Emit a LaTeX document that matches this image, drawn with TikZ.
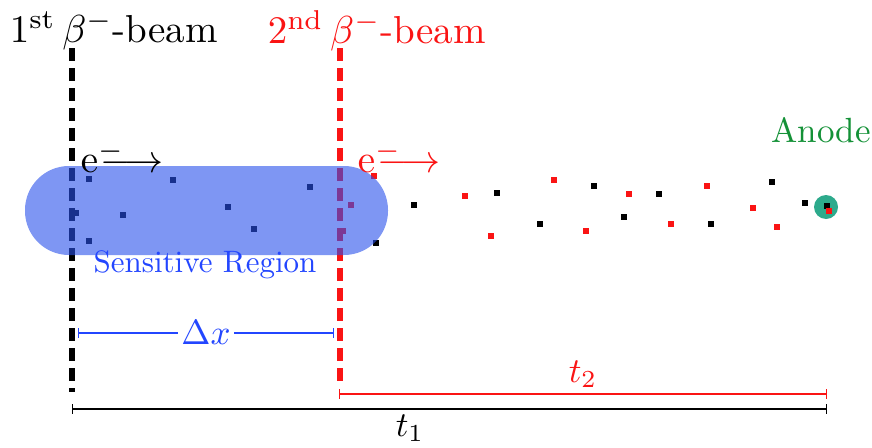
\documentclass[tikz,border=0pt]{standalone}
\definecolor{regionblue}{RGB}{40,80,235}
\definecolor{txtblue}{RGB}{35,70,255}
\definecolor{anodegreen}{RGB}{20,145,55}
\definecolor{anodeteal}{RGB}{45,170,140}
\definecolor{myred}{RGB}{250,20,20}
\begin{document}
\begin{tikzpicture}[x=1pt,y=-1pt,
  beamline/.style={line width=6.5pt,dash pattern=on 12.5pt off 7.5pt},
  pt/.style={fill=#1,inner sep=0pt,minimum size=6pt,draw=none,rectangle},
  big/.style={scale=3.9,transform shape,inner sep=0pt},
  mid/.style={scale=3.5,transform shape,inner sep=0pt}
]
\useasboundingbox (0,0) rectangle (872,447);

% labels
\node[big,anchor=west] (b1) at (9,31) {$1^{\mathrm{st}}\,\beta^{-}$-beam};
\node[big,anchor=west,text=myred] (b2) at (267,31) {$2^{\mathrm{nd}}\,\beta^{-}$-beam};

% beam lines
\coordinate (k1) at (72,48);
\coordinate (k2) at (72,392);
\coordinate (r1) at (340,48);
\coordinate (r2) at (340,386);
\draw[beamline,black] (k1) -- (k2);
\draw[beamline,myred] (r1) -- (r2);

% dots (black)
\foreach \p in {(89,179),(173,180),(310,187),(123,215),(228,207),(254,229),(89,241),(76,213),
  (376,243),(414,205),(497,193),(594,186),(659,194),(772,182),(805,203),(540,224),(624,217),(711,224)}
  \node[pt=black] at \p {};
% anode
\node[circle,fill=anodeteal,minimum size=24pt,inner sep=0pt] (anode) at (826,207) {};
\node[pt=black] at (827,206) {};
% dots (red)
\foreach \p in {(374,176),(351,205),(465,196),(554,180),(629,194),(707,186),(753,208),(491,236),
  (586,231),(671,224),(777,227),(829,211)}
  \node[pt=myred] at \p {};
\node[pt=myred] at (343,231) {};

% sensitive region
\node[rounded corners=44pt,fill=regionblue,fill opacity=0.6,minimum width=363pt,minimum height=89pt,inner sep=0pt] (region) at (206.5,210.5) {};
\node[scale=3.1,transform shape,text=txtblue,inner sep=0pt] (sr) at (205,265) {Sensitive Region};

% electrons
\node[big,anchor=west] (e1) at (80,157) {$\mathrm{e}^{-}\mkern-11mu\mathord{\longrightarrow}$};
\node[big,anchor=west,text=myred] (e2) at (357,157) {$\mathrm{e}^{-}\mkern-11mu\mathord{\longrightarrow}$};

\node[mid,text=anodegreen] (an) at (821,130) {Anode};

% dimension lines
\coordinate (dxa) at (78,333);
\coordinate (dxb) at (334,333);
\draw[txtblue,line width=1.4pt,|-|] (dxa) -- node[fill=white,mid,inner xsep=1pt] (dxl) {$\Delta x$} (dxb);

\coordinate (t2a) at (339,394);
\coordinate (t2b) at (827,394);
\draw[myred,line width=1.4pt,|-|] (t2a) -- (t2b);
\node[mid,text=myred] (t2l) at (583,374) {$t_2$};

\coordinate (t1a) at (72,409);
\coordinate (t1b) at (827,409);
\draw[black,line width=1.4pt,|-|] (t1a) -- (t1b);
\node[mid] (t1l) at (410,428) {$t_1$};
\end{tikzpicture}
\end{document}
